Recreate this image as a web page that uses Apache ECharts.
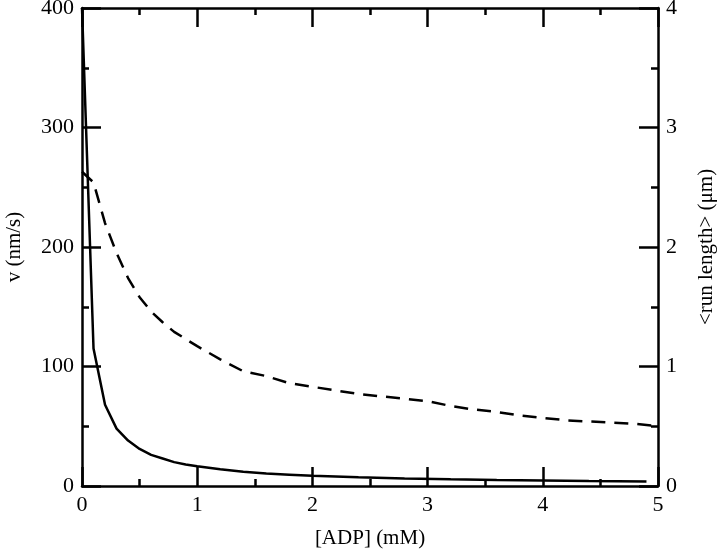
<!DOCTYPE html>
<html>
<head>
<meta charset="utf-8">
<script src="https://cdn.jsdelivr.net/npm/echarts@6/dist/echarts.min.js"></script>
<style>html,body{margin:0;padding:0;background:#fff}#c{width:720px;height:550px}</style>
</head>
<body>
<div id="c"></div>
<script>
// Velocity v (nm/s) vs [ADP] (mM) — solid line, left axis
const vADP = [0, 0.1, 0.2, 0.3, 0.4, 0.5, 0.6, 0.7, 0.8, 0.9, 1.0, 1.2, 1.4, 1.6, 1.8, 2.0, 2.4, 2.8, 3.2, 3.6, 4.0, 4.4, 4.9];
const vValues = [400, 115, 68, 48, 38, 31, 26, 23, 20, 18, 16.5, 14, 12, 10.5, 9.5, 8.5, 7.3, 6.3, 5.6, 5.0, 4.5, 4.1, 3.7];
// Mean run length (µm) vs [ADP] (mM) — dashed line, right axis
const runADP = [0, 0.1, 0.2, 0.3, 0.4, 0.5, 0.6, 0.7, 0.8, 0.9, 1.0, 1.2, 1.4, 1.6, 1.8, 2.0, 2.2, 2.4, 2.6, 2.8, 3.0, 3.2, 3.4, 3.6, 3.8, 4.0, 4.2, 4.4, 4.6, 4.8, 5.0];
const runValues = [2.63, 2.54, 2.20, 1.95, 1.74, 1.58, 1.46, 1.37, 1.29, 1.23, 1.17, 1.06, 0.96, 0.92, 0.86, 0.83, 0.80, 0.77, 0.75, 0.73, 0.71, 0.67, 0.64, 0.62, 0.59, 0.57, 0.55, 0.54, 0.53, 0.52, 0.50];
// Axis titles
const xTitle = '[ADP] (mM)';
const yLeftTitle = 'v (nm/s)';
const yRightTitle = '<run length> (\u03bcm)';

const FONT = 'Liberation Serif';
const axisLine = { show: true, onZero: false, lineStyle: { color: '#000', width: 2.5 } };
const tick = { show: true, inside: true, length: 19, lineStyle: { color: '#000', width: 2.5 } };
const minor = { show: true, splitNumber: 2, length: 7, lineStyle: { color: '#000', width: 2.5 } };
const lbl = { color: '#000', fontFamily: FONT, fontSize: 22 };
const nameStyle = { color: '#000', fontFamily: FONT, fontSize: 21 };

const chart = echarts.init(document.getElementById('c'), null, { renderer: 'canvas' });
chart.setOption({
  animation: false,
  backgroundColor: '#fff',
  grid: { left: 82, right: 62, top: 8, bottom: 64, containLabel: false, outerBoundsMode: 'none' },
  xAxis: [
    { type: 'value', position: 'bottom', min: 0, max: 5, interval: 1,
      name: xTitle, nameLocation: 'middle', nameGap: 42, nameTextStyle: nameStyle,
      axisLine, axisTick: tick, minorTick: minor, splitLine: { show: false },
      axisLabel: { ...lbl, margin: 8 } },
    { type: 'value', position: 'top', min: 0, max: 5, interval: 1,
      axisLine, axisTick: tick, minorTick: minor, splitLine: { show: false },
      axisLabel: { show: false } }
  ],
  yAxis: [
    { type: 'value', position: 'left', min: 0, max: 400, interval: 100,
      name: yLeftTitle, nameLocation: 'middle', nameGap: 57, nameRotate: 90, nameTextStyle: nameStyle,
      axisLine, axisTick: tick, minorTick: minor, splitLine: { show: false },
      axisLabel: { ...lbl, margin: 8 } },
    { type: 'value', position: 'right', min: 0, max: 4, interval: 1,
      name: yRightTitle, nameLocation: 'middle', nameGap: 38, nameRotate: 90, nameTextStyle: nameStyle,
      axisLine, axisTick: tick, minorTick: minor, splitLine: { show: false },
      axisLabel: { ...lbl, margin: 8 } }
  ],
  series: [
    { type: 'line', xAxisIndex: 0, yAxisIndex: 0, showSymbol: false, symbol: 'none',
      lineStyle: { color: '#000', width: 2.5 },
      data: vADP.map((x, i) => [x, vValues[i]]) },
    { type: 'line', xAxisIndex: 0, yAxisIndex: 1, showSymbol: false, symbol: 'none',
      lineStyle: { color: '#000', width: 2.5, type: [14, 9] },
      data: runADP.map((x, i) => [x, runValues[i]]) }
  ]
});
</script>
</body>
</html>
